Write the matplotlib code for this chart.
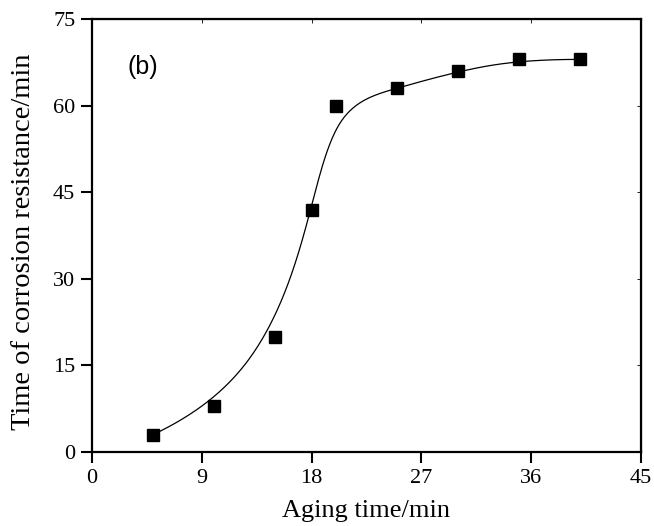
import numpy as np
import matplotlib
matplotlib.use('Agg')
import matplotlib.pyplot as plt

# données
aging_time = np.array([5, 10, 15, 18, 20, 25, 30, 35, 40])
corrosion_time = np.array([3, 8, 20, 42, 60, 63, 66, 68, 68])
x_ticks = [0, 9, 18, 27, 36, 45]
y_ticks = [0, 15, 30, 45, 60, 75]


def bspline(px, py, k=3, num=400):
    # B-spline cubique (points de données = points de contrôle), extrémités fixées
    n = len(px)
    knots = np.concatenate([np.zeros(k), np.arange(n - k + 1), np.full(k, n - k)]).astype(float)
    u = np.linspace(0, n - k, num)
    u[-1] -= 1e-9
    # Cox-de Boor
    B = np.zeros((num, len(knots) - 1))
    for i in range(len(knots) - 1):
        B[:, i] = (knots[i] <= u) & (u < knots[i + 1])
    for d in range(1, k + 1):
        Bn = np.zeros((num, len(knots) - 1 - d))
        for i in range(len(knots) - 1 - d):
            den1 = knots[i + d] - knots[i]
            den2 = knots[i + d + 1] - knots[i + 1]
            t1 = (u - knots[i]) / den1 * B[:, i] if den1 > 0 else 0
            t2 = (knots[i + d + 1] - u) / den2 * B[:, i + 1] if den2 > 0 else 0
            Bn[:, i] = t1 + t2
        B = Bn
    return B @ px, B @ py


cx, cy = bspline(aging_time.astype(float), corrosion_time.astype(float))

plt.rcParams['font.family'] = 'Liberation Serif'
fig = plt.figure(figsize=(6.54, 5.26), dpi=100)
ax = fig.add_axes([0.1407, 0.1407, 0.8393, 0.8232])

ax.plot(cx, cy, color='black', linewidth=0.9)
ax.plot(aging_time, corrosion_time, 's', color='black', markersize=9)

ax.set_xlim(0, 45)
ax.set_ylim(0, 75)
ax.set_xticks(x_ticks)
ax.set_yticks(y_ticks)
ax.tick_params(direction='out', length=8, width=1.5, labelsize=16, pad=4)
for sp in ax.spines.values():
    sp.set_linewidth(1.6)

top = ax.secondary_xaxis('top')
top.set_xticks(x_ticks)
top.tick_params(direction='in', length=3, width=0.6, labeltop=False)
right = ax.secondary_yaxis('right')
right.set_yticks(y_ticks)
right.tick_params(direction='in', length=3, width=0.6, labelright=False)

ax.set_xlabel('Aging time/min', fontsize=19, labelpad=9)
ax.set_ylabel('Time of corrosion resistance/min', fontsize=20.5)
ax.yaxis.set_label_coords(-0.102, 0.485)
ax.text(0.064, 0.888, '(b)', transform=ax.transAxes, fontsize=18,
        family='Liberation Sans', va='center', ha='left')

fig.savefig('out.png', dpi=100)
